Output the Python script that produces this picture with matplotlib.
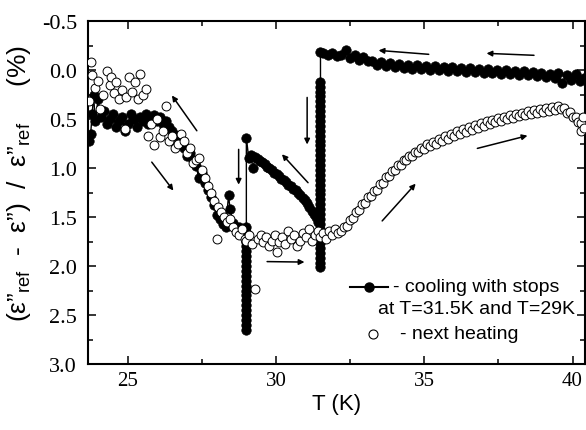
import matplotlib
matplotlib.use("Agg")
import matplotlib.pyplot as plt
from matplotlib.ticker import MultipleLocator, FormatStrFormatter

# ---------------- data ----------------
# cooling run (with stops at 31.5 K and 29 K), in measurement order (T decreasing)
cool_T_plateau = [40.40, 40.25, 40.10, 39.95, 39.80, 39.65, 39.50, 39.40, 39.25, 39.10,
                  38.95, 38.80, 38.65, 38.50, 38.35, 38.20, 38.05, 37.90, 37.75, 37.60,
                  37.45, 37.30, 37.15, 37.00, 36.85, 36.70, 36.55, 36.40, 36.25, 36.10,
                  35.95, 35.80, 35.65, 35.50, 35.35, 35.20, 35.05, 34.90, 34.75, 34.60,
                  34.45, 34.30, 34.15, 34.00, 33.85, 33.70, 33.55, 33.40, 33.25, 33.10,
                  32.95, 32.80, 32.65, 32.50, 32.35, 32.20, 32.05, 31.90, 31.75, 31.60, 31.50]
cool_y_plateau = [0.08, 0.11, 0.04, 0.10, 0.05, 0.13, 0.03, 0.08, 0.04, 0.07,
                  0.03, 0.06, 0.02, 0.05, 0.01, 0.05, 0.01, 0.04, 0.00, 0.04,
                  0.00, 0.03, -0.01, 0.03, -0.01, 0.02, -0.02, 0.02, -0.02, 0.01,
                  -0.03, 0.01, -0.03, 0.00, -0.04, 0.00, -0.04, -0.01, -0.05, -0.01,
                  -0.05, -0.02, -0.06, -0.03, -0.07, -0.04, -0.08, -0.05, -0.09, -0.09,
                  -0.13, -0.10, -0.15, -0.12, -0.20, -0.15, -0.14, -0.17, -0.15, -0.17, -0.18]

# relaxation during the stop at 31.5 K
stop1_T = 31.5
stop1_y = [0.12, 0.17, 0.22, 0.27, 0.32, 0.37, 0.42, 0.47, 0.52, 0.57, 0.62, 0.67, 0.72,
           0.77, 0.82, 0.87, 0.92, 0.97, 1.02, 1.07, 1.12, 1.17, 1.22, 1.27, 1.32, 1.37,
           1.42, 1.47, 1.52, 1.57, 1.62, 1.67, 1.72, 1.77, 1.82, 1.87, 1.92, 1.97, 2.01]

cool_T_mid = [31.42, 31.35, 31.28, 31.20, 31.12, 31.05, 30.97, 30.90, 30.82, 30.74,
              30.66, 30.58, 30.50, 30.42, 30.34, 30.26, 30.18, 30.10, 30.02, 29.94,
              29.86, 29.78, 29.70, 29.62, 29.54, 29.46, 29.38, 29.30, 29.22, 29.15,
              29.08, 29.00]
cool_y_mid = [1.55, 1.50, 1.47, 1.44, 1.40, 1.36, 1.33, 1.31, 1.28, 1.26,
              1.22, 1.21, 1.18, 1.17, 1.14, 1.12, 1.11, 1.08, 1.06, 1.05,
              1.02, 1.00, 0.99, 0.96, 0.94, 0.93, 0.91, 0.89, 1.00, 0.87,
              0.90, 0.69]

# relaxation during the stop at 29 K
stop2_T = 29.0
stop2_y = [1.60, 1.65, 1.70, 1.75, 1.80, 1.85, 1.90, 1.95, 2.00, 2.05, 2.10,
           2.15, 2.20, 2.25, 2.30, 2.35, 2.40, 2.45, 2.50, 2.55, 2.60, 2.65]

cool_T_low = [28.95, 28.85, 28.75, 28.65, 28.55, 28.45, 28.40, 28.30, 28.20, 28.10,
              28.00, 27.90, 27.80, 27.70, 27.60, 27.50, 27.40, 27.30, 27.20, 27.10,
              27.00, 26.90, 26.80, 26.70, 26.60, 26.50, 26.40, 26.30, 26.20, 26.10,
              26.00, 25.90, 25.80, 25.70, 25.60, 25.50, 25.40, 25.30, 25.20, 25.10,
              25.00, 24.90, 24.80, 24.70, 24.60, 24.50, 24.40, 24.30, 24.20, 24.10,
              24.00, 23.90, 23.85, 23.80, 23.75, 23.70]
cool_y_low = [1.62, 1.66, 1.60, 1.63, 1.56, 1.42, 1.28, 1.60, 1.57, 1.52,
              1.48, 1.38, 1.30, 1.22, 1.15, 1.05, 1.10, 0.98, 0.92, 0.85,
              0.88, 0.80, 0.72, 0.75, 0.66, 0.62, 0.58, 0.52, 0.55, 0.48,
              0.52, 0.46, 0.50, 0.55, 0.45, 0.52, 0.48, 0.58, 0.50, 0.45,
              0.55, 0.62, 0.48, 0.52, 0.58, 0.45, 0.50, 0.55, 0.42, 0.48,
              0.30, 0.52, 0.25, 0.45, 0.65, 0.72]

# next heating run (T increasing)
heat_T = [23.70, 23.75, 23.80, 23.90, 24.00, 24.05, 24.15, 24.30, 24.40, 24.45,
          24.55, 24.60, 24.70, 24.80, 24.90, 24.95, 25.05, 25.15, 25.25, 25.35,
          25.42, 25.50, 25.60, 25.70, 25.80, 25.90, 26.00, 26.10, 26.20, 26.30,
          26.40, 26.50, 26.60, 26.70, 26.80, 26.90, 27.00, 27.10, 27.20, 27.30,
          27.40, 27.50, 27.60, 27.70, 27.80, 27.90, 28.00, 28.05, 28.15, 28.25,
          28.35, 28.45, 28.55, 28.65, 28.75, 28.85, 28.95,
          29.00, 29.10, 29.20, 29.30, 29.40, 29.50, 29.55, 29.65, 29.75, 29.85,
          29.95, 30.05, 30.10, 30.20, 30.30, 30.40, 30.50, 30.60, 30.70, 30.80,
          30.90, 31.00, 31.10, 31.20, 31.30, 31.40, 31.50, 31.60, 31.70, 31.80,
          31.90, 32.00, 32.10,
          32.2, 32.3, 32.4, 32.5, 32.6, 32.7, 32.8, 32.9, 33.0, 33.1,
          33.2, 33.3, 33.4, 33.5, 33.6, 33.7, 33.8, 33.9, 34.0, 34.1,
          34.2, 34.3, 34.4, 34.5, 34.6, 34.7, 34.8, 34.9, 35.0, 35.1,
          35.2, 35.3, 35.4, 35.5, 35.6, 35.7, 35.8, 35.9, 36.0, 36.1,
          36.2, 36.3, 36.4, 36.5, 36.6, 36.7, 36.8, 36.9, 37.0, 37.1,
          37.2, 37.3, 37.4, 37.5, 37.6, 37.7, 37.8, 37.9, 38.0, 38.1,
          38.2, 38.3, 38.4, 38.5, 38.6, 38.7, 38.8, 38.9, 39.0, 39.1,
          39.2, 39.3, 39.4, 39.5, 39.6, 39.7, 39.8, 39.9, 40.0, 40.1,
          40.2, 40.3, 40.3, 40.35, 40.4]
heat_y = [0.32, -0.08, 0.05, 0.18, 0.11, 0.40, 0.25, 0.01, 0.15, 0.07,
          0.23, 0.12, 0.30, 0.20, 0.60, 0.28, 0.07, 0.22, 0.12, 0.30,
          0.04, 0.26, 0.19, 0.67, 0.55, 0.77, 0.50, 0.68, 0.62, 0.37,
          0.72, 0.67, 0.80, 0.76, 0.65, 0.72, 0.85, 0.80, 0.95, 0.92,
          0.90, 1.02, 1.10, 1.18, 1.25, 1.34, 1.72, 1.40, 1.45, 1.50,
          1.55, 1.52, 1.60, 1.65, 1.68, 1.62, 1.72,
          1.74, 1.68, 1.78, 2.23, 1.72, 1.68, 1.76, 1.70, 1.80, 1.74,
          1.68, 1.86, 1.76, 1.70, 1.78, 1.64, 1.72, 1.68, 1.80, 1.74,
          1.66, 1.70, 1.62, 1.74, 1.68, 1.64, 1.70, 1.66, 1.72, 1.64,
          1.68, 1.62, 1.66,
          1.64, 1.60, 1.59, 1.53, 1.51, 1.45, 1.43, 1.37, 1.36, 1.30,
          1.29, 1.23, 1.22, 1.16, 1.15, 1.09, 1.08, 1.03, 1.02, 0.97,
          0.97, 0.92, 0.92, 0.88, 0.88, 0.84, 0.84, 0.80, 0.81, 0.76,
          0.78, 0.73, 0.75, 0.70, 0.72, 0.67, 0.70, 0.65, 0.67, 0.62,
          0.65, 0.60, 0.63, 0.58, 0.61, 0.56, 0.59, 0.54, 0.57, 0.52,
          0.55, 0.51, 0.53, 0.49, 0.52, 0.48, 0.50, 0.46, 0.49, 0.45,
          0.47, 0.44, 0.46, 0.42, 0.45, 0.41, 0.44, 0.40, 0.43, 0.39,
          0.42, 0.38, 0.41, 0.37, 0.40, 0.39, 0.44, 0.43, 0.48, 0.48,
          0.53, 0.54, 0.62, 0.48, 0.59]

# direction arrows (tail -> head), data coordinates
arrows = [((35.15, -0.16), (33.46, -0.20)),
          ((38.70, -0.15), (37.10, -0.17)),
          ((27.33, 0.62), (26.49, 0.26)),
          ((25.81, 0.94), (26.54, 1.23)),
          ((28.74, 0.81), (28.74, 1.17)),
          ((31.05, 0.28), (31.05, 0.76)),
          ((31.08, 1.15), (30.20, 0.86)),
          ((29.70, 1.955), (30.96, 1.96)),
          ((33.58, 1.54), (34.71, 1.16)),
          ((36.79, 0.80), (38.48, 0.67))]

legend_labels = ["- cooling with stops", "at T=31.5K and T=29K", "- next heating"]
x_ticks = [25, 30, 35, 40]
y_ticks = [-0.5, 0.0, 0.5, 1.0, 1.5, 2.0, 2.5, 3.0]

# assemble the full cooling sequence
cool_T = (cool_T_plateau + [stop1_T] * len(stop1_y) + cool_T_mid
          + [stop2_T] * len(stop2_y) + cool_T_low)
cool_y = (cool_y_plateau + stop1_y + cool_y_mid + stop2_y + cool_y_low)

# ---------------- figure ----------------
plt.rcParams['mathtext.fontset'] = 'custom'
plt.rcParams['mathtext.rm'] = 'Liberation Sans'
plt.rcParams['mathtext.it'] = 'Liberation Sans'
plt.rcParams['mathtext.bf'] = 'Liberation Sans:bold'

fig = plt.figure(figsize=(5.86, 4.31), dpi=100)
ax = fig.add_axes([88/586, 66/431, 497/586, 343/431])

ax.plot(cool_T, cool_y, '-', color='black', lw=1.0, marker='o', ms=6.8,
        mfc='black', mec='black', mew=0.5, zorder=2)
ax.plot(heat_T, heat_y, 'o', ms=6.4, mfc='white', mec='black', mew=0.7, zorder=3)

for tail, head in arrows:
    ax.annotate('', xy=head, xytext=tail,
                arrowprops=dict(arrowstyle='-|>', color='black', lw=1.1,
                                mutation_scale=8, shrinkA=0, shrinkB=0),
                zorder=4)

ax.set_xlim(23.66, 40.42)
ax.set_ylim(3.0, -0.5)
ax.set_xticks(x_ticks)
ax.set_yticks(y_ticks)
ax.xaxis.set_minor_locator(MultipleLocator(2.5))
ax.yaxis.set_minor_locator(MultipleLocator(0.25))
ax.yaxis.set_major_formatter(FormatStrFormatter('%.1f'))

for s in ax.spines.values():
    s.set_linewidth(1.5)

ax.tick_params(which='both', direction='in', top=True, right=True, width=1.1)
ax.tick_params(which='major', length=6)
ax.tick_params(which='minor', length=3.5)
ax.tick_params(axis='x', which='major', pad=5)
ax.tick_params(axis='y', which='major', pad=8)
for lab in ax.get_xticklabels():
    lab.set_family('Liberation Serif'); lab.set_fontsize(15)
for lab in ax.get_yticklabels():
    lab.set_family('Liberation Serif'); lab.set_fontsize(16)

ax.set_xlabel('T (K)', family='Liberation Sans', fontsize=16)
ax.set_ylabel("(ε”$_{\\mathregular{ref}}$  -  ε”)  /  ε”$_{\\mathregular{ref}}$     (%)",
              family='Liberation Sans', fontsize=19)
ax.xaxis.set_label_coords(0.5, -0.085)
ax.yaxis.set_label_coords(-0.111, 0.53)

# legend (drawn manually to mimic the original layout)
tr = ax.transAxes
ax.plot([0.527, 0.604], [0.2245, 0.2245], '-', color='black', lw=1.5, transform=tr, clip_on=False)
ax.plot([0.5655], [0.2245], 'o', ms=6.5, mfc='black', mec='black', transform=tr, clip_on=False)
ax.text(0.613, 0.2245, legend_labels[0], transform=tr, family='Liberation Sans',
        fontsize=14, va='center', ha='left')
ax.text(0.583, 0.163, legend_labels[1], transform=tr, family='Liberation Sans',
        fontsize=14, va='center', ha='left')
ax.plot([0.5735], [0.0875], 'o', ms=6.5, mfc='white', mec='black', mew=0.8, transform=tr, clip_on=False)
ax.text(0.628, 0.0875, legend_labels[2], transform=tr, family='Liberation Sans',
        fontsize=14, va='center', ha='left')

fig.savefig('out.png', dpi=100)
